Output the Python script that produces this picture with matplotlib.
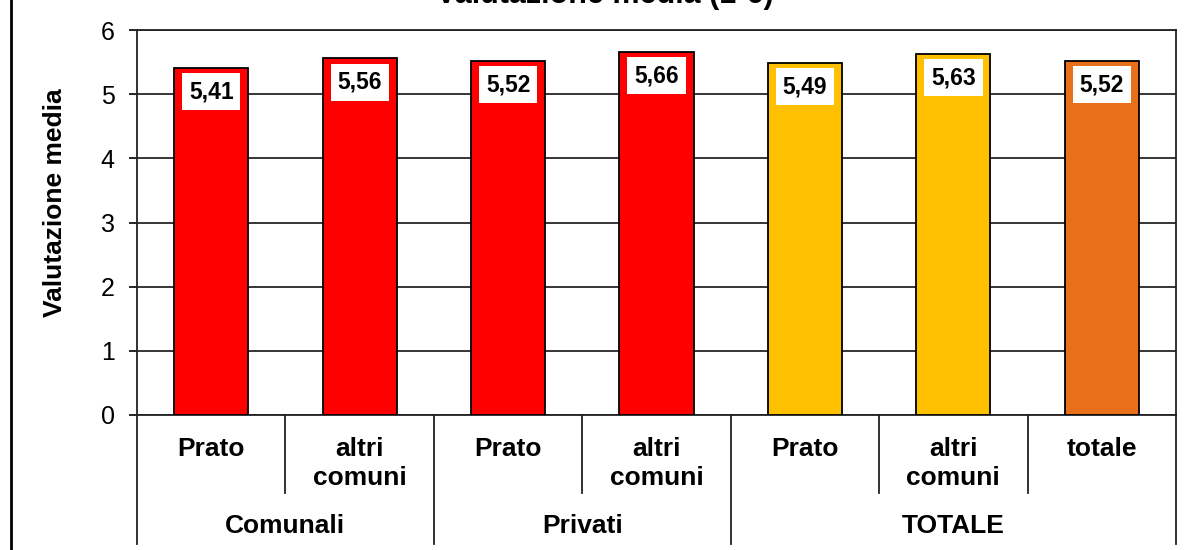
"""
Valutazione media (1-6) - grouped category bar chart with two-level axis.
"""

import matplotlib.pyplot as plt
from matplotlib.lines import Line2D
from matplotlib.transforms import blended_transform_factory

plt.rcParams['font.family'] = ['Liberation Sans', 'DejaVu Sans']

# data
sub_labels = ['Prato', 'altri\ncomuni', 'Prato', 'altri\ncomuni', 'Prato', 'altri\ncomuni', 'totale']
group_labels = ['Comunali', 'Privati', 'TOTALE']
group_sizes = [2, 2, 3]
values = [5.41, 5.56, 5.52, 5.66, 5.49, 5.63, 5.52]
bar_colors = ['#FF0000', '#FF0000', '#FF0000', '#FF0000', '#FFC000', '#FFC000', '#E8701A']
y_ticks = [0, 1, 2, 3, 4, 5, 6]

fig = plt.figure(figsize=(11.95, 5.5), dpi=100)
ax = fig.add_axes([137 / 1195, 1 - 415 / 550, (1176 - 137) / 1195, (415 - 30) / 550])

x = list(range(len(values)))
ax.bar(x, values, width=0.5, color=bar_colors, edgecolor='black', linewidth=1.3, zorder=3)

# value labels in white boxes just below the top of each bar
for xi, v in zip(x, values):
    ax.annotate(f"{v:.2f}".replace('.', ','), (xi, v), xytext=(0, -9), textcoords='offset points',
                ha='center', va='top', fontsize=16.5, fontweight='bold', zorder=4,
                bbox=dict(boxstyle='square,pad=0.3', facecolor='white', edgecolor='none'))

ax.set_xlim(-0.5, len(values) - 0.5)
ax.set_ylim(0, 6)
ax.set_yticks(y_ticks)
ax.set_yticklabels([str(t) for t in y_ticks], fontsize=18)
ax.tick_params(axis='y', direction='out', length=6, width=1.2, pad=10)
ax.set_xticks([])
ax.grid(axis='y', color='black', linewidth=1.1, zorder=1)
for s in ax.spines.values():
    s.set_linewidth(1.3)
    s.set_color('#222222')

# two-level category axis
trans = blended_transform_factory(ax.transData, ax.transAxes)
for xi, lab in zip(x, sub_labels):
    ax.text(xi, -0.056, lab, transform=trans, ha='center', va='top', fontsize=19,
            fontweight='bold', linespacing=1.3)

bounds = [-0.5]
for n in group_sizes:
    bounds.append(bounds[-1] + n)
short_sep = [b for b in [i + 0.5 for i in range(len(values) - 1)] if b not in bounds]
for b in short_sep:
    ax.plot([b, b], [0, -0.203], transform=trans, color='#222222', lw=1.3, clip_on=False)
for b in bounds:
    ax.plot([b, b], [0, -0.335], transform=trans, color='#222222', lw=1.3, clip_on=False)
for i, g in enumerate(group_labels):
    ax.text((bounds[i] + bounds[i + 1]) / 2, -0.3065, g, transform=trans, ha='center',
            va='baseline', fontsize=19, fontweight='bold')

fig.text(55 / 1195, 1 - 203 / 550, 'Valutazione media', rotation=90, ha='center', va='center',
         fontsize=19, fontweight='bold')
fig.text(605 / 1195, 1 - 3 / 550, 'Valutazione media (1-6)', ha='center', va='baseline',
         fontsize=22, fontweight='bold')

# chart area border on the left
fig.add_artist(Line2D([11 / 1195, 11 / 1195], [0, 1], transform=fig.transFigure, color='black', lw=2))

fig.savefig('out.png', dpi=100)
